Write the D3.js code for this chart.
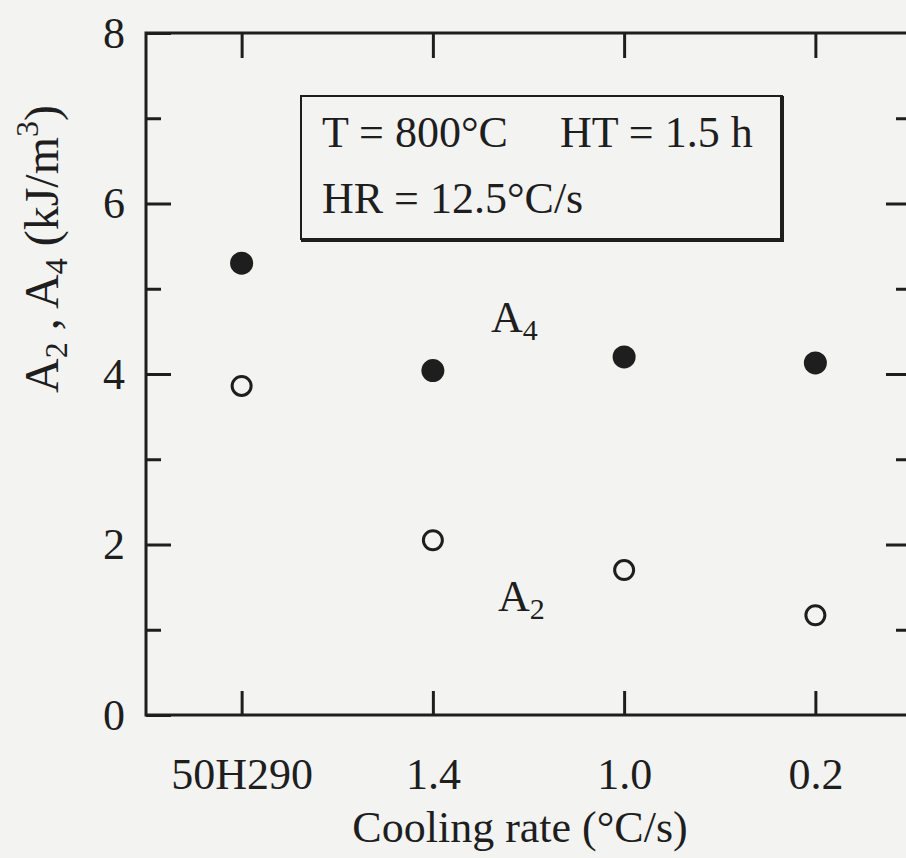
<!DOCTYPE html>
<html>
<head>
<meta charset="utf-8">
<script src="https://cdn.jsdelivr.net/npm/d3@7"></script>
<style>
  html, body { margin: 0; padding: 0; background: #f3f3f2; }
  svg { display: block; font-family: "Liberation Serif", "DejaVu Serif", serif; }
</style>
</head>
<body>
<div id="chart"></div>
<script>
// data
const categories = ['50H290', '1.4', '1.0', '0.2'];
const a4Values = [5.30, 4.04, 4.20, 4.13];
const a2Values = [3.86, 2.05, 1.70, 1.17];
const yMajorTicks = [0, 2, 4, 6, 8];
const yMinorTicks = [1, 3, 5, 7];

const width = 906;
const height = 858;
const ink = '#1e1e1e';

const plot = { left: 146, right: 911, top: 33, bottom: 715 };

const x = d3.scalePoint()
    .domain(categories)
    .range([plot.left, plot.right])
    .padding(0.5);

const y = d3.scaleLinear()
    .domain([0, 8])
    .range([plot.bottom, plot.top]);

const svg = d3.select('#chart')
    .append('svg')
    .attr('width', width)
    .attr('height', height);

svg.append('rect')
    .attr('width', width)
    .attr('height', height)
    .attr('fill', '#f3f3f2');

function styleAxis(g) {
    g.select('.domain').remove();
    g.selectAll('.tick line').attr('stroke', ink).attr('stroke-width', 3);
    g.selectAll('.tick text')
        .attr('fill', ink)
        .style('font-family', '"Liberation Serif", serif')
        .style('font-size', '44px');
}

// left axis, major + minor ticks pointing inward
svg.append('g')
    .attr('transform', `translate(${plot.left},0)`)
    .call(d3.axisLeft(y).tickValues(yMajorTicks).tickSizeInner(-25).tickSizeOuter(0).tickPadding(21))
    .call(styleAxis);

svg.append('g')
    .attr('transform', `translate(${plot.left},0)`)
    .call(d3.axisLeft(y).tickValues(yMinorTicks).tickSizeInner(-15).tickSizeOuter(0).tickFormat(''))
    .call(styleAxis);

// right axis
svg.append('g')
    .attr('transform', `translate(${plot.right},0)`)
    .call(d3.axisRight(y).tickValues(yMajorTicks.slice(1, -1)).tickSizeInner(-25).tickSizeOuter(0).tickFormat(''))
    .call(styleAxis);

svg.append('g')
    .attr('transform', `translate(${plot.right},0)`)
    .call(d3.axisRight(y).tickValues(yMinorTicks).tickSizeInner(-15).tickSizeOuter(0).tickFormat(''))
    .call(styleAxis);

// bottom axis with category labels
svg.append('g')
    .attr('transform', `translate(0,${plot.bottom})`)
    .call(d3.axisBottom(x).tickSizeInner(-24).tickSizeOuter(0).tickPadding(43))
    .call(styleAxis);

// top axis
svg.append('g')
    .attr('transform', `translate(0,${plot.top})`)
    .call(d3.axisTop(x).tickSizeInner(-25).tickSizeOuter(0).tickFormat(''))
    .call(styleAxis);

// frame
svg.append('rect')
    .attr('x', plot.left)
    .attr('y', plot.top)
    .attr('width', plot.right - plot.left)
    .attr('height', plot.bottom - plot.top)
    .attr('fill', 'none')
    .attr('stroke', ink)
    .attr('stroke-width', 3);

// A4 filled, A2 open
svg.append('g')
    .selectAll('circle')
    .data(a4Values)
    .enter()
    .append('circle')
    .attr('cx', (d, i) => x(categories[i]))
    .attr('cy', (d) => y(d))
    .attr('r', 11.5)
    .attr('fill', ink);

svg.append('g')
    .selectAll('circle')
    .data(a2Values)
    .enter()
    .append('circle')
    .attr('cx', (d, i) => x(categories[i]))
    .attr('cy', (d) => y(d))
    .attr('r', 9.5)
    .attr('fill', 'none')
    .attr('stroke', ink)
    .attr('stroke-width', 3);

// series labels
const seriesLabel = (name, sub, cx, cy) => {
    const t = svg.append('text')
        .attr('x', cx)
        .attr('y', cy)
        .attr('fill', ink)
        .style('font-size', '44px');
    t.append('tspan').text(name);
    t.append('tspan').attr('dy', 8).style('font-size', '30px').text(sub);
};
seriesLabel('A', '4', x('1.4') + 58, y(4.49));
seriesLabel('A', '2', x('1.4') + 65, y(1.22));

// condition box
const box = svg.append('g');
box.append('rect')
    .attr('x', 301)
    .attr('y', 96)
    .attr('width', 481)
    .attr('height', 143)
    .attr('fill', 'none')
    .attr('stroke', ink)
    .attr('stroke-width', 2);
box.append('path')
    .attr('d', 'M782,96 L782,240 L301,240')
    .attr('fill', 'none')
    .attr('stroke', ink)
    .attr('stroke-width', 4);

const line1 = box.append('text')
    .attr('y', 147)
    .attr('fill', ink)
    .style('font-size', '44px');
line1.append('tspan').attr('x', 322).text('T = 800°C');
line1.append('tspan').attr('x', 560).text('HT = 1.5 h');

box.append('text')
    .attr('x', 322)
    .attr('y', 213)
    .attr('fill', ink)
    .style('font-size', '44px')
    .text('HR = 12.5°C/s');

// axis titles
svg.append('text')
    .attr('x', 520)
    .attr('y', 842)
    .attr('text-anchor', 'middle')
    .attr('fill', ink)
    .style('font-size', '44px')
    .text('Cooling rate (°C/s)');

const yTitle = svg.append('text')
    .attr('transform', 'translate(58,249) rotate(-90)')
    .attr('text-anchor', 'middle')
    .attr('fill', ink)
    .style('font-size', '48px');
yTitle.append('tspan').text('A');
yTitle.append('tspan').attr('dy', 9).style('font-size', '32px').text('2');
yTitle.append('tspan').attr('dy', -9).text(' , A');
yTitle.append('tspan').attr('dy', 9).style('font-size', '32px').text('4');
yTitle.append('tspan').attr('dy', -9).text('  (kJ/m');
yTitle.append('tspan').attr('dy', -20).style('font-size', '32px').text('3');
yTitle.append('tspan').attr('dy', 20).text(')');
</script>
</body>
</html>
